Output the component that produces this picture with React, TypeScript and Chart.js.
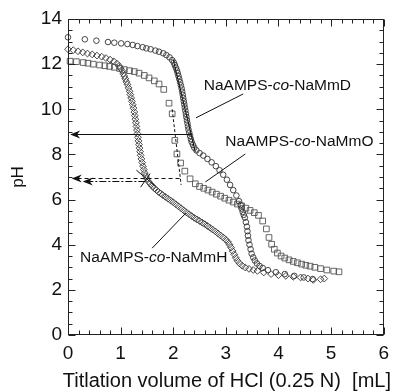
import React, { useEffect, useRef } from "react";
import { Chart, registerables } from "chart.js";
Chart.register(...registerables);

const FONT = "'Liberation Sans', Arial, Helvetica, sans-serif";

// NaAMPS-co-NaMmD (circles)
const mmD_vol = [0, 0.32, 0.54, 0.76, 0.88, 1.01, 1.13, 1.23, 1.32, 1.42, 1.49, 1.57, 1.66, 1.73, 1.81, 1.87, 1.93, 1.98, 2.01, 2.03, 2.05, 2.07, 2.085, 2.1, 2.115, 2.13, 2.145, 2.16, 2.17, 2.18, 2.19, 2.2, 2.21, 2.22, 2.23, 2.24, 2.25, 2.26, 2.27, 2.28, 2.29, 2.305, 2.32, 2.335, 2.35, 2.375, 2.4, 2.44, 2.5, 2.57, 2.65, 2.73, 2.81, 2.88, 2.95, 3.02, 3.08, 3.14, 3.2, 3.25, 3.28, 3.3, 3.32, 3.34, 3.36, 3.38, 3.4, 3.41, 3.42, 3.43, 3.45, 3.47, 3.49, 3.52, 3.55, 3.59, 3.64, 3.7, 3.8, 3.95, 4.12, 4.3, 4.48, 4.65];
const mmD_pH = [13.19, 13.1, 13.04, 12.98, 12.95, 12.92, 12.89, 12.85, 12.8, 12.75, 12.7, 12.66, 12.6, 12.55, 12.48, 12.4, 12.3, 12.18, 12.07, 11.96, 11.84, 11.72, 11.6, 11.47, 11.34, 11.2, 11.06, 10.92, 10.78, 10.64, 10.5, 10.36, 10.22, 10.08, 9.94, 9.8, 9.66, 9.52, 9.38, 9.24, 9.1, 8.96, 8.82, 8.68, 8.55, 8.42, 8.3, 8.18, 8.06, 7.95, 7.8, 7.65, 7.48, 7.3, 7.1, 6.88, 6.65, 6.42, 6.18, 5.93, 5.76, 5.6, 5.45, 5.32, 5.2, 5.0, 4.8, 4.6, 4.4, 4.2, 4.0, 3.8, 3.6, 3.44, 3.3, 3.17, 3.06, 2.97, 2.87, 2.78, 2.7, 2.62, 2.55, 2.48];

// NaAMPS-co-NaMmO (squares)
const mmO_vol = [0.04, 0.16, 0.29, 0.38, 0.48, 0.6, 0.7, 0.79, 0.88, 0.98, 1.07, 1.17, 1.26, 1.35, 1.45, 1.54, 1.64, 1.73, 1.82, 1.92, 1.98, 2.03, 2.07, 2.14, 2.22, 2.32, 2.42, 2.5, 2.58, 2.66, 2.74, 2.82, 2.9, 2.98, 3.06, 3.14, 3.22, 3.3, 3.38, 3.46, 3.54, 3.62, 3.7, 3.77, 3.82, 3.87, 3.92, 3.98, 4.05, 4.12, 4.2, 4.28, 4.36, 4.44, 4.52, 4.6, 4.69, 4.8, 4.92, 5.05, 5.15];
const mmO_pH = [12.13, 12.11, 12.07, 12.04, 12.0, 11.96, 11.93, 11.9, 11.86, 11.81, 11.76, 11.71, 11.67, 11.6, 11.5, 11.39, 11.26, 11.12, 10.88, 10.27, 9.8, 8.62, 8.02, 7.62, 7.26, 6.92, 6.7, 6.58, 6.5, 6.42, 6.33, 6.24, 6.15, 6.06, 5.97, 5.89, 5.8, 5.72, 5.62, 5.52, 5.42, 5.3, 5.05, 4.7, 4.32, 4.02, 3.8, 3.63, 3.5, 3.41, 3.33, 3.26, 3.2, 3.14, 3.09, 3.05, 3.0, 2.94, 2.88, 2.83, 2.8];

// NaAMPS-co-NaMmH (diamonds)
const mmH_vol = [0, 0.1, 0.19, 0.28, 0.37, 0.46, 0.55, 0.64, 0.72, 0.8, 0.87, 0.93, 0.97, 1.0, 1.03, 1.05, 1.07, 1.09, 1.11, 1.13, 1.15, 1.17, 1.185, 1.2, 1.215, 1.23, 1.245, 1.26, 1.27, 1.28, 1.29, 1.3, 1.31, 1.32, 1.33, 1.34, 1.35, 1.36, 1.37, 1.38, 1.395, 1.41, 1.425, 1.44, 1.46, 1.48, 1.5, 1.53, 1.56, 1.6, 1.64, 1.68, 1.72, 1.76, 1.8, 1.85, 1.9, 1.95, 2.0, 2.05, 2.1, 2.15, 2.2, 2.25, 2.3, 2.35, 2.4, 2.45, 2.5, 2.55, 2.6, 2.65, 2.7, 2.75, 2.8, 2.85, 2.9, 2.95, 3.0, 3.04, 3.07, 3.1, 3.13, 3.16, 3.19, 3.22, 3.26, 3.31, 3.37, 3.44, 3.52, 3.6, 3.72, 3.86, 4.0, 4.14, 4.28, 4.42, 4.56, 4.66, 4.8, 4.87];
const mmH_pH = [12.66, 12.62, 12.57, 12.52, 12.47, 12.43, 12.38, 12.33, 12.27, 12.2, 12.12, 12.02, 11.92, 11.82, 11.7, 11.58, 11.47, 11.35, 11.22, 11.1, 10.95, 10.8, 10.65, 10.5, 10.35, 10.2, 10.05, 9.88, 9.72, 9.56, 9.4, 9.24, 9.08, 8.92, 8.76, 8.6, 8.44, 8.28, 8.12, 7.96, 7.8, 7.64, 7.48, 7.33, 7.18, 7.04, 6.92, 6.8, 6.7, 6.6, 6.5, 6.42, 6.34, 6.27, 6.2, 6.12, 6.04, 5.96, 5.88, 5.79, 5.7, 5.61, 5.52, 5.43, 5.35, 5.27, 5.19, 5.12, 5.05, 4.98, 4.91, 4.83, 4.75, 4.67, 4.59, 4.5, 4.41, 4.32, 4.22, 4.12, 4.0, 3.87, 3.72, 3.57, 3.42, 3.29, 3.17, 3.07, 2.99, 2.93, 2.88, 2.84, 2.77, 2.7, 2.65, 2.62, 2.58, 2.55, 2.5, 2.44, 2.47, 2.5];

// axis
const X_MIN = 0, X_MAX = 6, X_STEP = 1, X_MINOR = 0.2;
const Y_MIN = 0, Y_MAX = 14, Y_STEP = 2, Y_MINOR = 0.5;
const X_TITLE = "Titlation volume of HCl (0.25 N)  [mL]";
const Y_TITLE = "pH";

// annotation geometry in data units
const arrowFrom_vol = [2.36, 2.12, 1.47];
const arrowTo_vol = [0.04, 0.07, 0.28];
const arrow_pH = [8.9, 6.97, 6.84];
const arrowDash = [[], [4, 3], [7, 2, 2, 2]];

const segs: { p: number[][]; dash: number[] }[] = [
  { p: [[2.0, 12.2], [2.42, 8.1]], dash: [] },
  { p: [[1.98, 10.0], [2.15, 6.65]], dash: [3, 2] },
  { p: [[1.3, 7.3], [1.66, 6.6]], dash: [] },
  { p: [[1.38, 6.55], [1.56, 7.15]], dash: [] },
];

const labelNames = ["NaMmD", "NaMmO", "NaMmH"];
const label_vol = [2.58, 2.99, 0.23];
const label_pH = [11.03, 8.55, 3.41];
const leaderFrom = [[3.33, 10.68], [3.37, 8.02], [1.6, 3.85]];
const leaderTo = [[2.43, 9.62], [2.61, 6.78], [2.24, 5.4]];

const pts = (xs: number[], ys: number[]) => xs.map((v, i) => ({ x: v, y: ys[i] }));

const framePlugin = {
  id: "frameTicks",
  afterDatasetsDraw(chart: any) {
    const { ctx, chartArea: a, scales } = chart;
    const xs = scales.x, ys = scales.y;
    ctx.save();
    ctx.strokeStyle = "#222";
    ctx.lineWidth = 1;
    const L = Math.round(a.left) + 0.5, R = Math.round(a.right) - 0.5;
    const T = Math.round(a.top) + 0.5, B = Math.round(a.bottom) - 0.5;
    ctx.strokeRect(L, T, R - L, B - T);
    ctx.beginPath();
    const nx = Math.round((X_MAX - X_MIN) / X_MINOR);
    const per = Math.round(X_STEP / X_MINOR);
    for (let i = 0; i <= nx; i++) {
      const v = X_MIN + i * X_MINOR;
      const px = Math.round(xs.getPixelForValue(v)) + 0.5;
      const len = i % per === 0 ? 7 : 4;
      ctx.moveTo(px, B); ctx.lineTo(px, B - len);
      ctx.moveTo(px, T); ctx.lineTo(px, T + len);
    }
    const ny = Math.round((Y_MAX - Y_MIN) / Y_MINOR);
    const pery = Math.round(Y_STEP / Y_MINOR);
    for (let i = 0; i <= ny; i++) {
      const v = Y_MIN + i * Y_MINOR;
      const py = Math.round(ys.getPixelForValue(v)) + 0.5;
      const len = i % pery === 0 ? 7 : 4;
      ctx.moveTo(L, py); ctx.lineTo(L + len, py);
      ctx.moveTo(R, py); ctx.lineTo(R - len, py);
    }
    ctx.stroke();
    // x-axis title (wider than the plot area, so drawn here without squeezing)
    ctx.fillStyle = "#111";
    ctx.font = "20px " + FONT;
    ctx.textAlign = "center";
    ctx.textBaseline = "middle";
    ctx.fillText(X_TITLE, (a.left + a.right) / 2 + 1, chart.height - 10);
    ctx.restore();
  },
};

const annotPlugin = {
  id: "annot",
  afterDatasetsDraw(chart: any) {
    const { ctx, scales } = chart;
    const X = (v: number) => scales.x.getPixelForValue(v);
    const Y = (v: number) => scales.y.getPixelForValue(v);
    ctx.save();
    ctx.strokeStyle = "#111";
    ctx.fillStyle = "#111";
    ctx.lineWidth = 1;
    arrowFrom_vol.forEach((x1, i) => {
      const y = Math.round(Y(arrow_pH[i])) + 0.5;
      const a = X(x1), b = X(arrowTo_vol[i]);
      ctx.setLineDash(arrowDash[i]);
      ctx.beginPath();
      ctx.moveTo(a, y);
      ctx.lineTo(b + 6, y);
      ctx.stroke();
      ctx.setLineDash([]);
      ctx.beginPath();
      ctx.moveTo(b, y);
      ctx.lineTo(b + 10, y - 4);
      ctx.lineTo(b + 7, y);
      ctx.lineTo(b + 10, y + 4);
      ctx.closePath();
      ctx.fill();
    });
    segs.forEach((s) => {
      ctx.setLineDash(s.dash);
      ctx.beginPath();
      ctx.moveTo(X(s.p[0][0]), Y(s.p[0][1]));
      ctx.lineTo(X(s.p[1][0]), Y(s.p[1][1]));
      ctx.stroke();
    });
    ctx.setLineDash([]);
    leaderFrom.forEach((f, i) => {
      ctx.beginPath();
      ctx.moveTo(X(f[0]), Y(f[1]));
      ctx.lineTo(X(leaderTo[i][0]), Y(leaderTo[i][1]));
      ctx.stroke();
    });
    ctx.textBaseline = "middle";
    ctx.textAlign = "left";
    labelNames.forEach((nm, i) => {
      let x = X(label_vol[i]);
      const y = Y(label_pH[i]);
      const parts: [string, boolean][] = [["NaAMPS-", false], ["co", true], ["-" + nm, false]];
      parts.forEach(([t, it]) => {
        ctx.font = (it ? "italic " : "") + "15.5px " + FONT;
        ctx.fillText(t, x, y);
        x += ctx.measureText(t).width;
      });
    });
    ctx.restore();
  },
};

export default function App() {
  const ref = useRef<HTMLCanvasElement>(null);
  useEffect(() => {
    if (!ref.current) return;
    const common = { showLine: false, backgroundColor: "rgba(0,0,0,0)", borderWidth: 0.9, clip: false as any };
    const chart = new Chart(ref.current, {
      type: "scatter",
      data: {
        datasets: [
          { label: "NaAMPS-co-NaMmD", data: pts(mmD_vol, mmD_pH), pointStyle: "circle", pointRadius: 2.8, borderColor: "#333", ...common },
          { label: "NaAMPS-co-NaMmO", data: pts(mmO_vol, mmO_pH), pointStyle: "rect", pointRadius: 4, borderColor: "#555", ...common },
          { label: "NaAMPS-co-NaMmH", data: pts(mmH_vol, mmH_pH), pointStyle: "rectRot", pointRadius: 3.4, borderColor: "#333", ...common },
        ] as any,
      },
      options: {
        animation: false,
        responsive: false,
        maintainAspectRatio: false,
        layout: { padding: { top: 19, right: 9, left: 0, bottom: 0 } },
        plugins: { legend: { display: false }, tooltip: { enabled: false } },
        scales: {
          x: {
            type: "linear",
            min: X_MIN,
            max: X_MAX,
            grid: { display: false, drawTicks: false },
            border: { display: false },
            ticks: { stepSize: X_STEP, padding: 7, color: "#111", font: { family: FONT, size: 19 } },
            title: { display: false },
            afterFit: (s: any) => { s.height = 56; },
          },
          y: {
            type: "linear",
            min: Y_MIN,
            max: Y_MAX,
            grid: { display: false, drawTicks: false },
            border: { display: false },
            ticks: { stepSize: Y_STEP, padding: 6, color: "#111", font: { family: FONT, size: 19 } },
            title: { display: true, text: Y_TITLE, color: "#111", padding: { top: 8, bottom: 0 }, font: { family: FONT, size: 17 } },
            afterFit: (s: any) => { s.width = 68; },
          },
        },
      } as any,
      plugins: [framePlugin, annotPlugin],
    });
    return () => chart.destroy();
  }, []);
  return (
    <div style={{ position: "absolute", left: 0, top: 0, width: 396, height: 391, background: "#fff" }}>
      <canvas ref={ref} width={396} height={391} style={{ width: 396, height: 391, display: "block" }} />
    </div>
  );
}
